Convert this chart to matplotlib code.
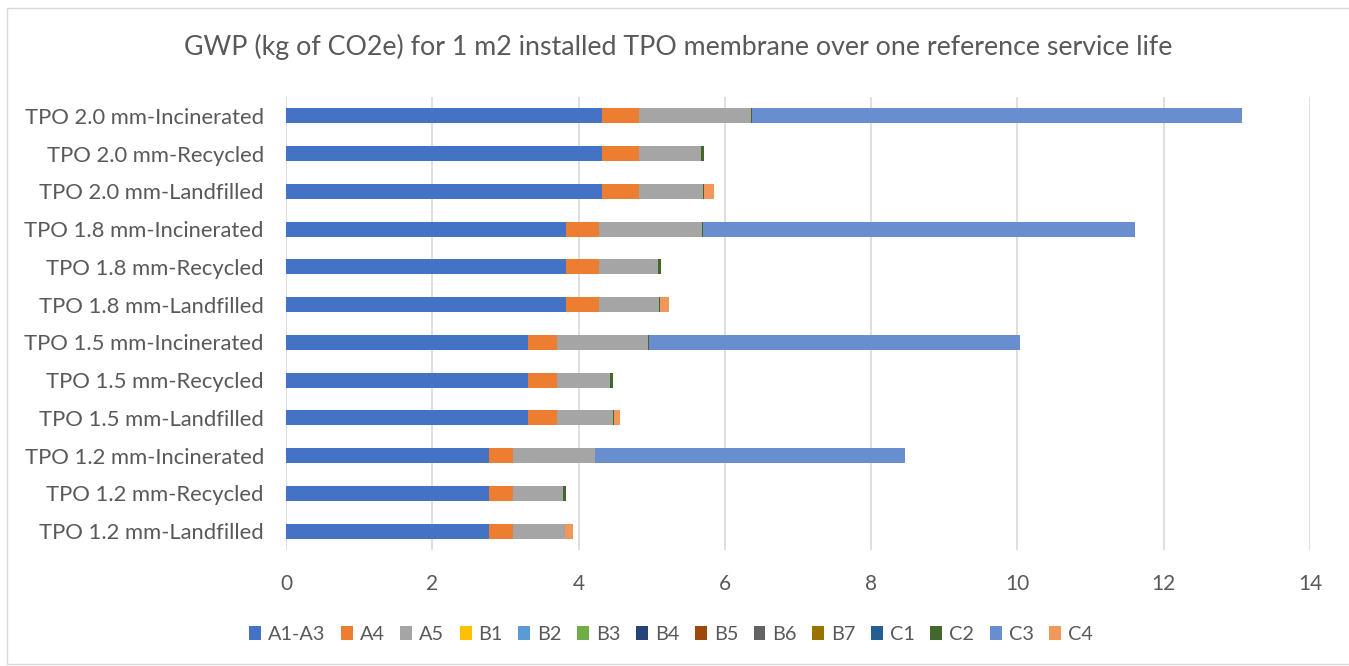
import matplotlib
matplotlib.use("Agg")
import matplotlib.pyplot as plt
from matplotlib.patches import Rectangle, Patch
import numpy as np

plt.rcParams['font.family'] = ['Lato', 'DejaVu Sans']

categories = [
    "TPO 1.2 mm-Landfilled", "TPO 1.2 mm-Recycled", "TPO 1.2 mm-Incinerated",
    "TPO 1.5 mm-Landfilled", "TPO 1.5 mm-Recycled", "TPO 1.5 mm-Incinerated",
    "TPO 1.8 mm-Landfilled", "TPO 1.8 mm-Recycled", "TPO 1.8 mm-Incinerated",
    "TPO 2.0 mm-Landfilled", "TPO 2.0 mm-Recycled", "TPO 2.0 mm-Incinerated",
]
stages = ["A1-A3", "A4", "A5", "B1", "B2", "B3", "B4", "B5", "B6", "B7", "C1", "C2", "C3", "C4"]
colors = ["#4472C4", "#ED7D31", "#A5A5A5", "#FFC000", "#5B9BD5", "#70AD47", "#264478",
          "#9E480E", "#636363", "#997300", "#255E91", "#43682B", "#698ED0", "#F1975A"]

a1_a3 = [2.78, 2.78, 2.78, 3.31, 3.31, 3.31, 3.83, 3.83, 3.83, 4.32, 4.32, 4.32]
a4    = [0.33, 0.32, 0.32, 0.39, 0.39, 0.39, 0.45, 0.45, 0.45, 0.50, 0.50, 0.50]
a5    = [0.70, 0.69, 1.12, 0.77, 0.73, 1.25, 0.82, 0.81, 1.41, 0.88, 0.86, 1.54]
b1 = [0]*12; b2 = [0]*12; b3 = [0]*12; b4 = [0]*12; b5 = [0]*12; b6 = [0]*12; b7 = [0]*12
c1 = [0]*12
c2    = [0.01, 0.04, 0.01, 0.01, 0.04, 0.01, 0.01, 0.04, 0.01, 0.01, 0.04, 0.01]
c3    = [0.00, 0.00, 4.23, 0.00, 0.00, 5.07, 0.00, 0.00, 5.91, 0.00, 0.00, 6.70]
c4    = [0.10, 0.00, 0.00, 0.09, 0.00, 0.00, 0.13, 0.00, 0.00, 0.14, 0.00, 0.00]

series = [a1_a3, a4, a5, b1, b2, b3, b4, b5, b6, b7, c1, c2, c3, c4]

W, H = 1349, 666
fig = plt.figure(figsize=(W/100, H/100), dpi=100)
fig.patch.set_facecolor("white")

# chart border
fig.patches.append(Rectangle((7/W, 2/H), 1.2, (H-10)/H, transform=fig.transFigure,
                             fill=False, edgecolor="#D9D9D9", linewidth=1))

ax = fig.add_axes([286/W, 1-550/H, (1310-286)/W, (550-97)/H])
y = np.arange(len(categories))
left = np.zeros(len(categories))
for name, vals, col in zip(stages, series, colors):
    v = np.array(vals, dtype=float)
    ax.barh(y, v, left=left, height=0.4, color=col, label=name, zorder=3)
    left += v

ax.set_xlim(0, 14)
ax.set_ylim(-0.5, len(categories) - 0.5)
ax.set_xticks(np.arange(0, 15, 2))
ax.set_yticks(y)
ax.set_yticklabels(categories)
ax.grid(axis="x", color="#D9D9D9", linewidth=1.2, zorder=0)
ax.set_axisbelow(True)
for s in ax.spines.values():
    s.set_visible(False)
ax.tick_params(axis="both", length=0, colors="#595959")
ax.tick_params(axis="y", pad=16, labelsize=15.8)
ax.tick_params(axis="x", pad=17, labelsize=15)

fig.text(678/W, 1-47/H, "GWP (kg of CO2e) for 1 m2 installed TPO membrane over one reference service life",
         ha="center", va="center", fontsize=19.3, color="#595959")

handles = [Patch(facecolor=c, edgecolor="none") for c in colors]
fig.legend(handles, stages, loc="center", bbox_to_anchor=(671/W, 1-634/H), ncol=14,
           frameon=False, fontsize=14.3, handlelength=0.6, handleheight=0.7,
           handletextpad=0.35, columnspacing=0.78, labelcolor="#595959")

fig.savefig("out.png", dpi=100, facecolor="white")
